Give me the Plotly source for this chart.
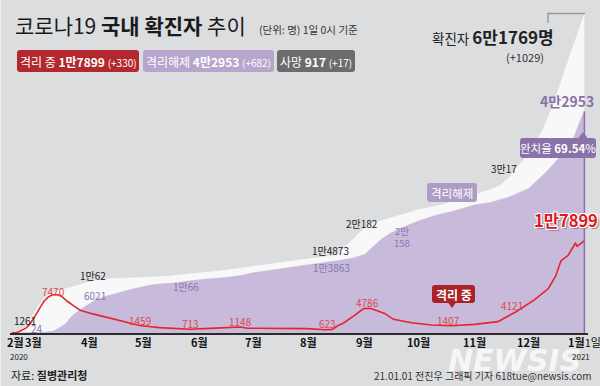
import plotly.graph_objects as go

# ---------------- data ----------------
total_dates = ["2020-02-18", "2020-02-20", "2020-02-22", "2020-02-24", "2020-02-26", "2020-02-28",
               "2020-03-01", "2020-03-03", "2020-03-05", "2020-03-07", "2020-03-10", "2020-03-15",
               "2020-03-20", "2020-03-25", "2020-04-01", "2020-04-03", "2020-04-10", "2020-04-20",
               "2020-05-01", "2020-05-15", "2020-06-01", "2020-06-15", "2020-07-01", "2020-07-15",
               "2020-08-01", "2020-08-14", "2020-08-16", "2020-08-18", "2020-08-20", "2020-08-23",
               "2020-08-26", "2020-08-29", "2020-09-01", "2020-09-07", "2020-09-15", "2020-09-22",
               "2020-10-01", "2020-10-15", "2020-11-01", "2020-11-10", "2020-11-15", "2020-11-20",
               "2020-11-25", "2020-12-01", "2020-12-05", "2020-12-09", "2020-12-13", "2020-12-16",
               "2020-12-19", "2020-12-22", "2020-12-25", "2020-12-28", "2020-12-30", "2020-12-31",
               "2021-01-01"]
total_vals = [31, 104, 433, 833, 1261, 2337, 3736, 4812, 5766, 6767, 7513, 8162, 8652, 9137, 9887,
              10062, 10450, 10674, 10774, 10991, 11541, 12121, 12904, 13612, 14389, 14873, 15318,
              15761, 16346, 17399, 18265, 19400, 20182, 21432, 22285, 23045, 23889, 24889, 26732,
              27799, 28546, 30017, 32318, 34652, 36915, 39432, 42766, 45442, 48570, 51460, 54770,
              57680, 59773, 60740, 61769]

released_dates = ["2020-02-18", "2020-02-26", "2020-03-01", "2020-03-05", "2020-03-08", "2020-03-10",
                  "2020-03-12", "2020-03-14", "2020-03-16", "2020-03-18", "2020-03-20", "2020-03-22",
                  "2020-03-24", "2020-03-27", "2020-03-31", "2020-04-03", "2020-04-06", "2020-04-10",
                  "2020-04-14", "2020-04-18", "2020-04-24", "2020-04-29", "2020-05-05", "2020-05-10",
                  "2020-05-18", "2020-05-26", "2020-06-05", "2020-06-15", "2020-06-25", "2020-07-01",
                  "2020-07-15", "2020-08-01", "2020-08-14", "2020-08-20", "2020-08-25", "2020-09-01",
                  "2020-09-05", "2020-09-10", "2020-09-15", "2020-09-20", "2020-09-30", "2020-10-10",
                  "2020-10-20", "2020-11-01", "2020-11-10", "2020-11-20", "2020-12-01", "2020-12-10",
                  "2020-12-20", "2020-12-26", "2020-12-31", "2021-01-01"]
released_vals = [12, 22, 30, 88, 166, 288, 333, 714, 1137, 1540, 2233, 3166, 3730, 4528, 5408, 6021,
                 6694, 7117, 7534, 7829, 8411, 8854, 9283, 9484, 9666, 10066, 10467, 10718, 11170,
                 11670, 12424, 13238, 13863, 14134, 14461, 15198, 16583, 18129, 19271, 20158, 21590,
                 22744, 23565, 24810, 25300, 26325, 28000, 30900, 34700, 37800, 42271, 42953]

isolated_dates = ["2020-02-18", "2020-02-20", "2020-02-22", "2020-02-24", "2020-02-26", "2020-02-28",
                  "2020-03-01", "2020-03-03", "2020-03-05", "2020-03-07", "2020-03-09", "2020-03-11",
                  "2020-03-13", "2020-03-15", "2020-03-17", "2020-03-20", "2020-03-24", "2020-03-27",
                  "2020-04-03", "2020-04-13", "2020-04-18", "2020-04-23", "2020-04-29", "2020-05-10",
                  "2020-05-20", "2020-05-27", "2020-06-10", "2020-06-24", "2020-06-28", "2020-07-15",
                  "2020-07-31", "2020-08-10", "2020-08-14", "2020-08-17", "2020-08-20", "2020-08-26",
                  "2020-08-31", "2020-09-02", "2020-09-05", "2020-09-12", "2020-09-17", "2020-09-27",
                  "2020-10-08", "2020-10-19", "2020-11-01", "2020-11-14", "2020-11-24", "2020-12-04",
                  "2020-12-12", "2020-12-16", "2020-12-19", "2020-12-23", "2020-12-27", "2020-12-28",
                  "2020-12-31", "2021-01-01"]
isolated_vals = [20, 60, 250, 600, 1000, 1700, 2700, 3900, 5100, 6200, 6900, 7300, 7470, 7350, 7000,
                 6100, 5100, 4400, 3700, 2838, 2450, 1990, 1459, 1050, 780, 713, 950, 1148, 920, 950,
                 850, 623, 700, 1400, 1900, 3300, 4650, 4786, 4700, 3800, 2650, 2000, 1550, 1407, 1680,
                 2200, 4121, 6370, 8620, 11000, 14000, 15060, 17370, 16800, 17600, 17899]

month_ticks = ["2020-02-20", "2020-03-01", "2020-04-01", "2020-05-01", "2020-06-01", "2020-07-01",
               "2020-08-01", "2020-09-01", "2020-10-01", "2020-11-01", "2020-12-01", "2021-01-01"]
month_labels = ["<b>2월</b>", "<b>3월</b>", "<b>4월</b>", "<b>5월</b>", "<b>6월</b>", "<b>7월</b>",
                "<b>8월</b>", "<b>9월</b>", "<b>10월</b>", "<b>11월</b>", "<b>12월</b>", "<b>1월</b>1일"]

# ---------------- layout helpers ----------------
W, H = 600, 386
L, R, T, B = 10, 12, 13, 53
PW, PH = W - L - R, H - T - B
KR = "Noto Sans CJK KR"


def px(x):
    return (x - L) / PW


def py(y):
    return (H - B - y) / PH


anns = []
shapes = []


def A(text, x, y, size=10, color="#222", xa="center", ya="middle", family=KR, **fk):
    anns.append(dict(text=text, x=px(x), y=py(y), xref="paper", yref="paper",
                     xanchor=xa, yanchor=ya, showarrow=False,
                     font=dict(family=family, size=size, color=color, **fk)))


def rrect(x0, y0, x1, y1, r, color):
    pts = (f"M {px(x0 + r)},{py(y0)} L {px(x1 - r)},{py(y0)} Q {px(x1)},{py(y0)} {px(x1)},{py(y0 + r)} "
           f"L {px(x1)},{py(y1 - r)} Q {px(x1)},{py(y1)} {px(x1 - r)},{py(y1)} "
           f"L {px(x0 + r)},{py(y1)} Q {px(x0)},{py(y1)} {px(x0)},{py(y1 - r)} "
           f"L {px(x0)},{py(y0 + r)} Q {px(x0)},{py(y0)} {px(x0 + r)},{py(y0)} Z")
    shapes.append(dict(type="path", path=pts, xref="paper", yref="paper",
                       fillcolor=color, line=dict(width=0), layer="above"))


def tri(pts, color):
    p = "M " + " L ".join(f"{px(a)},{py(b)}" for a, b in pts) + " Z"
    shapes.append(dict(type="path", path=p, xref="paper", yref="paper",
                       fillcolor=color, line=dict(width=0), layer="above"))


# ---------------- traces ----------------
fig = go.Figure()
fig.add_trace(go.Scatter(x=total_dates, y=total_vals, mode="lines",
                         line=dict(width=0.5, color="#ffffff"), fill="tozeroy",
                         fillcolor="#f8f8f8", hoverinfo="skip"))
fig.add_trace(go.Scatter(x=released_dates, y=released_vals, mode="lines",
                         line=dict(width=0.5, color="#c3b5d8"), fill="tozeroy",
                         fillcolor="#c7badb", hoverinfo="skip"))
fig.add_trace(go.Scatter(x=isolated_dates, y=isolated_vals, mode="lines",
                         line=dict(width=1.6, color="#e3262d"), hoverinfo="skip"))

# last released bar highlighted
shapes.append(dict(type="line", xref="x", yref="y", x0=released_dates[-1], x1=released_dates[-1],
                   y0=0, y1=released_vals[-1], line=dict(color="#8a72aa", width=1.5)))

# bracket at top right
shapes.append(dict(type="path", xref="paper", yref="paper",
                   path=f"M {px(548)},{py(23)} L {px(548)},{py(13.5)} L {px(585)},{py(13.5)}",
                   line=dict(color="#9a9a9a", width=1.5)))
# thin white left edge
shapes.append(dict(type="line", xref="paper", yref="paper", x0=px(0.5), x1=px(0.5), y0=py(0), y1=py(386),
                   line=dict(color="#f0f0f0", width=1)))

# ---------------- header ----------------
A("코로나19 <b>국내 확진자</b> 추이", 13, 25, 21, "#1a1a1a", xa="left")
A("(단위: 명) 1일 0시 기준", 257, 30, 10.5, "#333", xa="left")

rrect(17, 50, 139, 72, 3, "#b3282e")
rrect(143, 50, 274, 72, 3, "#b6a5cd")
rrect(277, 50, 355, 72, 3, "#6c6c6d")
A("격리 중 <b>1만7899</b> <span style='font-size:10px'>(+330)</span>", 78, 61, 12, "white")
A("격리해제 <b>4만2953</b> <span style='font-size:10px'>(+682)</span>", 208.5, 61, 12, "white")
A("사망 <b>917</b> <span style='font-size:10px'>(+17)</span>", 316, 61, 12, "white")

A("확진자 <b><span style='font-size:17px'>6만1769명</span></b>", 556, 36, 13.5, "#222", xa="right")
A("(+1029)", 525, 57, 11, "#333")

# ---------------- right side callouts ----------------
A("<b>4만2953</b>", 567, 101, 14, "#8a73aa")
rrect(520, 138, 596, 158, 3, "#8b73a9")
tri([(578, 138.5), (588, 138.5), (583, 132)], "#8b73a9")
A("완치율 <b>69.54</b>%", 558, 148, 11.5, "white")

A("3만17", 504, 168, 10)
rrect(427, 183, 477, 202, 3, "#ae9cc7")
A("격리해제", 452, 192.5, 11.5, "white")
A("2만182", 362, 223, 10)
A("2만<br>158", 402, 237, 9.5, "#8a76b0")
A("1만4873", 330, 250, 10)
A("1만3863", 331, 267.5, 10, "#8a76b0")
A("<b>1만7899</b>", 566, 220, 16.5, "#e3151c",
  shadow="1px 1px 0 #fff, -1px -1px 0 #fff, 1px -1px 0 #fff, -1px 1px 0 #fff, 2px 2px 1px #888")

rrect(432, 285, 475, 303, 3, "#a92329")
tri([(448, 302.5), (456, 302.5), (452, 308)], "#a92329")
A("<b>격리 중</b>", 453.5, 294, 12, "white")

# ---------------- data labels ----------------
RED = "#e0484e"
PUR = "#8a76b0"
for t, x, y in [("7470", 53, 291), ("1459", 140, 320), ("713", 190, 323), ("1148", 240, 321),
                ("623", 327, 323), ("4786", 367, 302), ("1407", 448, 320), ("4121", 512, 305)]:
    A(t, x, y, 10, RED)
A("1261", 25, 320, 10)
A("1만62", 93, 275, 10)
A("24", 37, 328, 10, PUR)
A("6021", 95, 295, 10, PUR)
A("1만66", 186, 286, 10, PUR)

# ---------------- footer ----------------
A("<b><i>NEWSIS</i></b>", 514, 360, 30, "rgba(255,255,255,0.75)", family="DejaVu Sans")

# month labels placed on the date axis scale
for d, lab in zip(month_ticks, month_labels):
    anns.append(dict(text=lab, x=d, y=py(342), xref="x", yref="paper", xanchor="center",
                     yanchor="middle", showarrow=False,
                     font=dict(family=KR, size=11, color="#111")))

A("2020", 19, 356, 8, "#222")
A("2021", 581, 356, 8, "#222")
A("자료: <b>질병관리청</b>", 9, 375, 11, "#222", xa="left")
A("21.01.01 전진우 그래픽 기자 618tue@newsis.com", 594, 375, 10, "#333", xa="right")

fig.update_layout(
    width=W, height=H,
    margin=dict(l=L, r=R, t=T, b=B, pad=0),
    paper_bgcolor="#dcdddf", plot_bgcolor="#dcdddf",
    showlegend=False,
    xaxis=dict(type="date", range=["2020-02-17", "2021-01-03"], showgrid=False, zeroline=False,
               showline=True, linecolor="#2b2b2b", linewidth=1.5, ticks="", showticklabels=False),
    yaxis=dict(range=[0, 62000], visible=False, fixedrange=True),
    annotations=anns, shapes=shapes,
)

fig.write_html("out.html", config={"displayModeBar": False},
               post_script="document.body.style.margin='0';document.body.style.overflow='hidden';")
